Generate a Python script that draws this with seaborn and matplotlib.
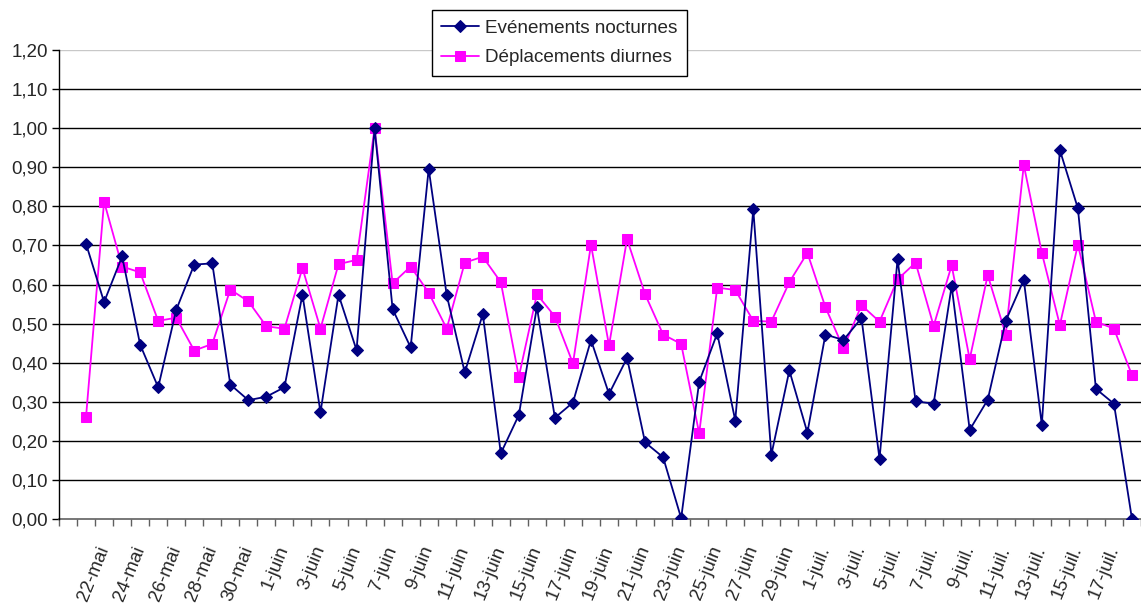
import matplotlib
matplotlib.use("Agg")
import matplotlib.pyplot as plt
import numpy as np
import pandas as pd
import seaborn as sns

# Daily categories: 20-mai (empty slot) through 18-juil.
dates = (["20-mai"]
         + [f"{d}-mai" for d in range(21, 32)]
         + [f"{d}-juin" for d in range(1, 31)]
         + [f"{d}-juil." for d in range(1, 19)])

nocturnes = [0.704, 0.555, 0.672, 0.446, 0.337, 0.535, 0.651, 0.654, 0.344, 0.304,
             0.313, 0.337, 0.574, 0.273, 0.574, 0.432, 1.000, 0.537, 0.439, 0.896,
             0.573, 0.375, 0.524, 0.168, 0.266, 0.542, 0.259, 0.298, 0.458, 0.320,
             0.412, 0.196, 0.158, 0.002, 0.351, 0.475, 0.252, 0.792, 0.164, 0.380,
             0.221, 0.472, 0.458, 0.514, 0.154, 0.665, 0.301, 0.295, 0.596, 0.228,
             0.305, 0.507, 0.612, 0.241, 0.944, 0.795, 0.333, 0.295, 0.000]

diurnes = [0.262, 0.812, 0.646, 0.631, 0.507, 0.515, 0.431, 0.448, 0.587, 0.557,
           0.493, 0.487, 0.642, 0.487, 0.652, 0.663, 1.000, 0.603, 0.646, 0.579,
           0.487, 0.656, 0.671, 0.606, 0.364, 0.575, 0.518, 0.398, 0.702, 0.444,
           0.716, 0.575, 0.472, 0.448, 0.219, 0.592, 0.586, 0.507, 0.505, 0.606,
           0.681, 0.542, 0.437, 0.547, 0.505, 0.613, 0.656, 0.494, 0.649, 0.409,
           0.624, 0.472, 0.906, 0.681, 0.496, 0.702, 0.505, 0.487, 0.368]

series_names = ["Evénements nocturnes", "Déplacements diurnes"]
y_ticks = [round(0.1 * i, 2) for i in range(13)]

sns.set_style("white")
plt.rcParams["font.family"] = ["Liberation Sans", "DejaVu Sans"]

W, H = 1141, 610
fig = plt.figure(figsize=(W / 100, H / 100), dpi=100)
ax = fig.add_axes([59 / W, (H - 519) / H, (1141 - 59) / W, (519 - 50) / H])

pos = np.arange(1, len(dates))
df = pd.DataFrame({"pos": pos, "noct": nocturnes, "diur": diurnes})

sns.lineplot(data=df, x="pos", y="noct", ax=ax, color="#000080", marker="D",
             markersize=6.5, markeredgecolor="#000080", linewidth=1.3,
             label=series_names[0], zorder=4)
sns.lineplot(data=df, x="pos", y="diur", ax=ax, color="#FF00FF", marker="s",
             markersize=6.5, markeredgecolor="#FF00FF", linewidth=1.3,
             label=series_names[1], zorder=3)

ax.set_xlim(-0.5, len(dates) - 0.5)
ax.set_ylim(0, 1.2)

# horizontal gridlines
for v in y_ticks[1:]:
    ax.axhline(v, color="#c8c8c8" if v >= 1.2 else "black", lw=1.0, zorder=1)

# y axis
ax.set_yticks(y_ticks)
ax.set_yticklabels([f"{v:.2f}".replace(".", ",") for v in y_ticks], fontsize=13.5)
ax.tick_params(axis="y", which="major", direction="out", length=5, width=1,
               color="black", pad=3, left=True)

# x axis: tick marks between days, labels every other day
ax.set_xticks(np.arange(-0.5, len(dates), 1.0), minor=True)
lab_idx = list(range(2, len(dates), 2))
ax.set_xticks(lab_idx)
ax.set_xticklabels([dates[i] for i in lab_idx], fontsize=13.5, rotation=68,
                   ha="right", va="center", rotation_mode="anchor")
ax.tick_params(axis="x", which="major", length=0, pad=20, bottom=True)
ax.tick_params(axis="x", which="minor", direction="out", length=5, width=1,
               color="#606060", bottom=True)

ax.set_xlabel("")
ax.set_ylabel("")
for s in ["top", "right"]:
    ax.spines[s].set_visible(False)
ax.spines["left"].set_color("black")
ax.spines["left"].set_linewidth(1.0)
ax.spines["bottom"].set_color("#606060")
ax.spines["bottom"].set_linewidth(1.2)
ax.spines["bottom"].set_zorder(2)

ax.legend_.remove()
h, l = ax.get_legend_handles_labels()
leg = fig.legend(h, l, loc="upper left", bbox_to_anchor=(432 / W, 1 - 10 / H),
                 fontsize=13.6, frameon=True, fancybox=False, edgecolor="black",
                 framealpha=1, handlelength=2.0, handletextpad=0.3,
                 borderpad=0.5, labelspacing=0.65, borderaxespad=0)
leg.get_frame().set_linewidth(1.0)

fig.savefig("out.png", dpi=100)
